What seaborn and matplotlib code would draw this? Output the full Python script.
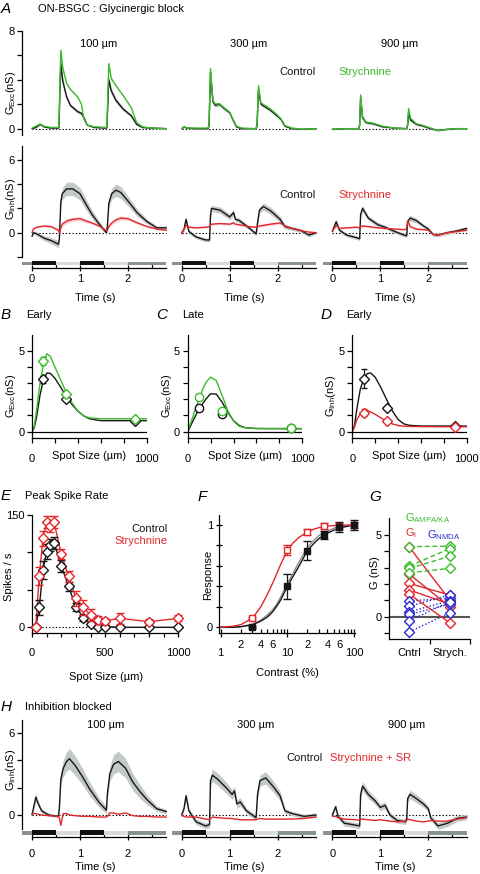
import numpy as np
import matplotlib
matplotlib.use("Agg")
import matplotlib.pyplot as plt
import seaborn as sns

# --------------------------------
# Data
# --------------------------------
SPOT_LABELS = ["100 µm", "300 µm", "900 µm"]

# stimulus protocol under each trace (s)
STIM_START = [-0.2, 0.0, 0.5, 1.0, 1.5, 2.0]
STIM_DUR = [0.2, 0.5, 0.5, 0.5, 0.5, 0.8]
STIM_SHADE = ["mid", "dark", "light", "dark", "light", "mid"]

# A, top: excitatory conductance (nS), control vs strychnine
EXC_100_T = [0, 0.08, 0.17, 0.25, 0.4, 0.55, 0.56, 0.6, 0.64, 0.72, 0.8, 0.95, 1.03, 1.08,
             1.15, 1.3, 1.55, 1.56, 1.6, 1.65, 1.75, 1.9, 2.07, 2.18, 2.3, 2.5, 2.8]
EXC_100_CTRL = [0.0, 0.1, 0.35, 0.15, 0.05, 0.05, 0.1, 5.3, 3.9, 2.6, 1.9, 1.4, 1.25, 0.9,
                0.3, 0.1, 0.05, 0.1, 4.0, 3.1, 2.3, 1.6, 1.05, 0.35, 0.1, 0.05, 0.0]
EXC_100_STRY = [0.05, 0.2, 0.38, 0.2, 0.1, 0.1, 0.2, 6.4, 5.0, 3.7, 3.2, 2.6, 2.0, 0.8,
                0.3, 0.15, 0.1, 0.2, 5.3, 4.1, 3.5, 2.7, 1.7, 0.5, 0.15, 0.05, 0.0]
EXC_100_SEM = [0.05, 0.05, 0.08, 0.05, 0.05, 0.05, 0.1, 0.35, 0.3, 0.2, 0.15, 0.15, 0.12, 0.1,
               0.08, 0.05, 0.05, 0.1, 0.3, 0.25, 0.2, 0.15, 0.12, 0.08, 0.05, 0.05, 0.05]

EXC_300_T = [0, 0.05, 0.1, 0.3, 0.55, 0.57, 0.6, 0.65, 0.7, 0.78, 0.9, 1.0, 1.07, 1.14,
             1.25, 1.55, 1.57, 1.6, 1.65, 1.75, 1.85, 1.97, 2.07, 2.15, 2.3, 2.5, 2.8]
EXC_300_CTRL = [0.0, 0.15, 0.05, 0.0, 0.0, 0.3, 4.6, 2.2, 1.9, 2.0, 1.6, 1.3, 0.7, 0.15,
                0.0, 0.0, 0.3, 3.2, 2.0, 1.75, 1.5, 1.1, 0.75, 0.2, 0.0, -0.05, 0.0]
EXC_300_STRY = [0.0, 0.15, 0.05, 0.05, 0.05, 0.5, 4.9, 2.3, 2.0, 2.05, 1.65, 1.35, 0.75, 0.2,
                0.05, 0.0, 0.4, 3.5, 2.1, 1.85, 1.6, 1.2, 0.8, 0.25, 0.05, -0.05, 0.0]
EXC_300_SEM = [0.05, 0.05, 0.05, 0.05, 0.05, 0.1, 0.3, 0.15, 0.15, 0.15, 0.12, 0.1, 0.08, 0.05,
               0.05, 0.05, 0.1, 0.25, 0.15, 0.12, 0.12, 0.1, 0.08, 0.05, 0.05, 0.05, 0.05]

EXC_900_T = [0, 0.3, 0.55, 0.57, 0.59, 0.63, 0.7, 0.85, 1.05, 1.3, 1.55, 1.57, 1.59, 1.63,
             1.75, 1.9, 2.05, 2.2, 2.4, 2.6, 2.8]
EXC_900_CTRL = [-0.05, 0.0, 0.0, 0.3, 2.5, 0.9, 0.5, 0.4, 0.15, 0.05, 0.0, 0.3, 1.3, 0.7,
                0.35, 0.2, 0.0, -0.15, -0.05, 0.0, 0.0]
EXC_900_STRY = [-0.05, 0.0, 0.0, 0.3, 2.75, 1.0, 0.55, 0.45, 0.2, 0.05, 0.0, 0.4, 1.65, 0.85,
                0.4, 0.25, 0.05, -0.15, -0.05, 0.0, 0.0]
EXC_900_SEM = [0.05, 0.05, 0.05, 0.1, 0.25, 0.12, 0.08, 0.08, 0.06, 0.05, 0.05, 0.1, 0.2, 0.1,
               0.08, 0.06, 0.05, 0.05, 0.05, 0.05, 0.05]

# A, bottom: inhibitory conductance (nS), control vs strychnine
INH_100_T = [0, 0.03, 0.1, 0.25, 0.4, 0.55, 0.57, 0.6, 0.63, 0.72, 0.85, 1.0, 1.1, 1.25,
             1.4, 1.55, 1.57, 1.6, 1.66, 1.75, 1.85, 2.0, 2.2, 2.4, 2.6, 2.8]
INH_100_CTRL = [-0.3, 0.0, -0.1, -0.45, -0.65, -0.95, -0.5, 2.5, 3.2, 3.6, 3.6, 3.2, 2.5, 1.5,
                0.7, 0.0, 0.5, 2.4, 3.2, 3.5, 3.3, 2.6, 1.6, 0.9, 0.4, 0.4]
INH_100_STRY = [0.0, 0.3, 0.45, 0.55, 0.5, 0.2, -0.05, 0.4, 0.7, 0.95, 1.1, 1.15, 1.0, 0.8,
                0.55, 0.15, 0.2, 0.5, 0.8, 1.05, 1.2, 1.15, 0.8, 0.5, 0.3, 0.2]
INH_100_SEM = [0.1, 0.1, 0.15, 0.2, 0.25, 0.3, 0.2, 0.3, 0.45, 0.55, 0.55, 0.5, 0.45, 0.35,
               0.25, 0.15, 0.15, 0.3, 0.45, 0.5, 0.5, 0.4, 0.3, 0.2, 0.15, 0.15]

INH_300_T = [0, 0.05, 0.09, 0.15, 0.3, 0.5, 0.58, 0.6, 0.62, 0.8, 1.0, 1.08, 1.12, 1.2,
             1.4, 1.55, 1.58, 1.62, 1.7, 1.85, 2.05, 2.15, 2.3, 2.5, 2.65, 2.8]
INH_300_CTRL = [0.0, 0.3, 1.1, 0.1, -0.35, -0.6, -0.6, 1.4, 2.0, 1.85, 1.3, 1.65, 1.1, 1.0,
                0.4, -0.1, 0.8, 1.85, 2.15, 1.8, 1.1, 0.5, 0.35, 0.15, -0.2, 0.0]
INH_300_STRY = [-0.1, 0.3, 0.6, 0.45, 0.4, 0.45, 0.5, 0.6, 0.7, 0.75, 0.7, 0.8, 0.7, 0.65,
                0.5, 0.45, 0.5, 0.55, 0.6, 0.7, 0.8, 0.55, 0.35, 0.15, 0.05, 0.0]
INH_300_SEM = [0.1, 0.15, 0.2, 0.15, 0.15, 0.15, 0.15, 0.2, 0.25, 0.25, 0.25, 0.25, 0.2, 0.2,
               0.15, 0.15, 0.2, 0.25, 0.3, 0.3, 0.25, 0.2, 0.15, 0.15, 0.15, 0.1]

INH_900_T = [0, 0.08, 0.15, 0.3, 0.5, 0.57, 0.59, 0.63, 0.75, 0.95, 1.1, 1.3, 1.5, 1.55,
             1.57, 1.62, 1.75, 1.9, 2.0, 2.1, 2.2, 2.4, 2.6, 2.8]
INH_900_CTRL = [0.1, 0.9, 0.2, -0.2, -0.4, -0.5, 1.5, 2.0, 1.2, 0.65, 0.45, 0.1, -0.2, -0.25,
                0.9, 1.2, 1.0, 0.55, 0.3, -0.15, -0.2, 0.0, 0.15, 0.35]
INH_900_STRY = [0.1, 0.6, 0.35, 0.4, 0.45, 0.4, 0.5, 0.55, 0.5, 0.4, 0.35, 0.3, 0.25, 0.35,
                1.0, 0.5, 0.3, 0.25, 0.2, -0.15, -0.2, 0.0, 0.1, 0.2]
INH_900_SEM = [0.1, 0.2, 0.15, 0.15, 0.15, 0.15, 0.2, 0.25, 0.2, 0.2, 0.15, 0.15, 0.15, 0.15,
               0.2, 0.25, 0.2, 0.15, 0.15, 0.15, 0.15, 0.15, 0.15, 0.15]

# B-D: conductance vs spot size (nS)
SPOT_SIZES = [100, 300, 900]
B_CTRL = [3.23, 2.0, 0.65]
B_CTRL_ERR = [0.2, 0.1, 0.05]
B_STRY = [4.36, 2.3, 0.78]
B_STRY_ERR = [0.25, 0.15, 0.05]
C_CTRL = [1.48, 1.07, 0.2]
C_CTRL_ERR = [0.1, 0.08, 0.03]
C_STRY = [2.16, 1.3, 0.2]
C_STRY_ERR = [0.15, 0.08, 0.03]
D_CTRL = [3.27, 1.44, 0.35]
D_CTRL_ERR = [0.6, 0.1, 0.15]
D_STRY = [1.17, 0.68, 0.27]
D_STRY_ERR = [0.2, 0.05, 0.05]

# fitted curves
FIT_X = [0, 20, 40, 70, 100, 130, 160, 200, 250, 300, 350, 400, 450, 500, 600, 1000]
B_FIT_CTRL = [0, 0.25, 0.9, 2.26, 3.2, 3.62, 3.6, 3.3, 2.75, 2.18, 1.67, 1.27, 0.98, 0.8, 0.68, 0.68]
B_FIT_STRY = [0, 0.35, 1.34, 3.0, 4.2, 4.82, 4.65, 4.0, 3.2, 2.4, 1.77, 1.28, 0.98, 0.85, 0.8, 0.8]
C_FIT_CTRL = [0, 0.28, 0.58, 1.0, 1.4, 1.72, 2.02, 2.34, 2.32, 1.82, 1.2, 0.68, 0.38, 0.25, 0.19, 0.18]
C_FIT_STRY = [0, 0.4, 0.82, 1.45, 2.0, 2.6, 3.05, 3.37, 3.15, 2.25, 1.3, 0.65, 0.33, 0.24, 0.2, 0.2]
D_FIT_CTRL = [0, 0.4, 1.42, 2.63, 3.27, 3.58, 3.63, 3.36, 2.72, 1.98, 1.28, 0.75, 0.48, 0.39, 0.35, 0.35]
D_FIT_STRY = [0, 0.3, 0.74, 1.09, 1.24, 1.3, 1.22, 1.07, 0.85, 0.63, 0.48, 0.38, 0.34, 0.32, 0.31, 0.3]

# E: peak spike rate (spikes / s)
E_SPOTS = [25, 50, 75, 100, 125, 150, 200, 250, 300, 350, 400, 450, 500, 600, 800, 1000]
E_CTRL = [0, 27, 77, 101, 110, 113, 82, 55, 27, 13, 5, 1, 1, 0, 0, 0]
E_CTRL_ERR = [0, 10, 12, 10, 8, 8, 8, 6, 5, 4, 3, 2, 2, 1, 1, 1]
E_STRY = [0, 68, 119, 140, 135, 141, 98, 68, 39, 27, 16, 10, 8.5, 12, 7.5, 12]
E_STRY_ERR = [0, 12, 10, 8, 8, 8, 7, 7, 10, 10, 8, 5, 4, 7, 3, 4]

# F: contrast response
F_CONTRAST = [3, 10, 20, 35, 60, 100]
F_CTRL = [0.0, 0.40, 0.75, 0.90, 0.98, 1.0]
F_CTRL_ERR = [0.01, 0.12, 0.09, 0.04, 0.05, 0.05]
F_STRY = [0.09, 0.755, 0.93, 0.99, 0.99, 1.0]
F_STRY_ERR = [0.01, 0.05, 0.03, 0.03, 0.03, 0.03]
F_FIT_C = [1, 1.5, 2, 3, 4, 5, 6, 7, 8, 10, 12, 15, 20, 25, 30, 40, 50, 70, 100]
F_FIT_STRY = [0.0, 0.01, 0.025, 0.09, 0.2, 0.32, 0.43, 0.53, 0.62, 0.75, 0.82, 0.88, 0.93,
              0.96, 0.975, 0.99, 0.995, 1.0, 1.0]
F_FIT_CTRL = [0.0, 0.0, 0.005, 0.025, 0.06, 0.1, 0.15, 0.21, 0.27, 0.4, 0.49, 0.6, 0.75,
              0.82, 0.87, 0.92, 0.95, 0.98, 1.0]
F_FIT_CTRL2 = [0.0, 0.0, 0.006, 0.03, 0.07, 0.12, 0.17, 0.23, 0.3, 0.43, 0.52, 0.64, 0.78,
               0.85, 0.9, 0.94, 0.97, 0.99, 1.0]

# G: paired conductances (nS), control -> strychnine
G_GROUPS = ["Cntrl", "Strych."]
G_AMPA_CTRL = [4.29, 3.1, 2.96, 2.69]
G_AMPA_STRY = [4.33, 4.18, 3.71, 2.96]
G_I_CTRL = [4.25, 2.6, 2.04, 1.63, 1.37]
G_I_STRY = [1.02, 0.61, 1.33, 0.78, -0.37]
G_NMDA_CTRL = [0.98, 0.65, 0.31, 0.14, -0.24, -0.92]
G_NMDA_STRY = [1.12, 1.33, 0.98, 0.78, 0.92, 0.24]

# H: inhibitory conductance (nS), control vs strychnine + SR
BLK_100_T = [0, 0.08, 0.12, 0.2, 0.35, 0.55, 0.57, 0.6, 0.65, 0.72, 0.78, 0.9, 1.05, 1.2,
             1.4, 1.55, 1.57, 1.62, 1.7, 1.8, 1.95, 2.1, 2.25, 2.4, 2.6, 2.8]
BLK_100_CTRL = [0.0, 1.3, 0.9, 0.3, 0.0, -0.1, 0.5, 2.6, 3.4, 3.9, 4.1, 3.6, 2.8, 1.9,
                0.9, 0.35, 1.5, 3.0, 3.7, 3.9, 3.4, 2.4, 1.7, 1.1, 0.45, 0.25]
BLK_100_DRUG = [0.1, 0.1, 0.05, 0.0, -0.05, -0.1, -0.2, -0.75, 0.1, 0.1, 0.0, -0.05, -0.1, -0.1,
                -0.15, -0.15, -0.1, 0.15, 0.15, 0.05, 0.15, -0.05, -0.1, -0.1, -0.15, -0.15]
BLK_100_SEM = [0.1, 0.3, 0.2, 0.15, 0.1, 0.1, 0.2, 0.4, 0.6, 0.7, 0.75, 0.7, 0.6, 0.5,
               0.35, 0.25, 0.3, 0.55, 0.7, 0.75, 0.7, 0.6, 0.5, 0.35, 0.2, 0.15]

BLK_300_T = [0, 0.05, 0.09, 0.15, 0.3, 0.5, 0.58, 0.6, 0.64, 0.75, 0.95, 1.05, 1.1, 1.15,
             1.22, 1.35, 1.55, 1.58, 1.63, 1.75, 1.9, 2.05, 2.15, 2.3, 2.55, 2.8]
BLK_300_CTRL = [0.0, 0.5, 1.4, 0.3, -0.5, -0.8, -0.7, 2.5, 2.9, 2.6, 1.9, 1.5, 1.75, 0.8,
                0.95, 0.3, -0.2, 1.5, 2.5, 2.7, 2.1, 1.4, 0.3, 0.1, -0.1, 0.0]
BLK_300_DRUG = [-0.05, -0.1, -0.15, -0.15, -0.15, -0.3, -0.35, -0.25, -0.15, -0.2, -0.25, -0.25,
                -0.3, -0.3, -0.35, -0.35, -0.35, -0.3, -0.25, -0.3, -0.3, -0.3, -0.3, -0.3,
                -0.25, -0.15]
BLK_300_SEM = [0.1, 0.15, 0.3, 0.2, 0.2, 0.2, 0.2, 0.35, 0.45, 0.45, 0.4, 0.35, 0.35, 0.3,
               0.3, 0.2, 0.2, 0.3, 0.4, 0.45, 0.4, 0.35, 0.2, 0.15, 0.15, 0.15]

BLK_900_T = [0, 0.07, 0.12, 0.25, 0.5, 0.57, 0.59, 0.63, 0.75, 0.9, 1.0, 1.1, 1.2, 1.35,
             1.52, 1.55, 1.57, 1.62, 1.75, 1.9, 2.0, 2.05, 2.2, 2.4, 2.6, 2.8]
BLK_900_CTRL = [0.0, 0.6, -0.1, -0.6, -0.75, -0.8, 1.5, 2.1, 1.5, 1.0, 0.55, 0.7, 0.0, -0.4,
                -0.5, -0.3, 1.2, 1.5, 1.2, 0.8, 0.45, -0.2, -0.8, -0.6, -0.25, -0.15]
BLK_900_DRUG = [-0.1, -0.1, -0.2, -0.3, -0.35, -0.4, -0.3, -0.3, -0.35, -0.4, -0.35, -0.4,
                -0.45, -0.5, -0.45, -0.4, -0.3, -0.35, -0.45, -0.5, -0.45, -0.4, -0.45, -0.45,
                -0.3, -0.2]
BLK_900_SEM = [0.1, 0.2, 0.15, 0.2, 0.2, 0.2, 0.3, 0.35, 0.3, 0.25, 0.25, 0.25, 0.2, 0.2,
               0.2, 0.2, 0.25, 0.3, 0.3, 0.25, 0.2, 0.2, 0.25, 0.25, 0.2, 0.2]

# --------------------------------
# Style
# --------------------------------
sns.set_theme(style="ticks")
plt.rcParams["font.family"] = ["Liberation Sans", "DejaVu Sans"]
plt.rcParams["mathtext.fontset"] = "custom"
plt.rcParams["mathtext.rm"] = "Liberation Sans"
plt.rcParams["mathtext.it"] = "Liberation Sans:italic"
plt.rcParams["mathtext.bf"] = "Liberation Sans:bold"
plt.rcParams["font.size"] = 8
plt.rcParams["axes.facecolor"] = "none"
plt.rcParams["axes.edgecolor"] = "black"
plt.rcParams["axes.linewidth"] = 0.9
plt.rcParams["text.color"] = "black"
plt.rcParams["axes.labelcolor"] = "black"
plt.rcParams["xtick.color"] = "black"
plt.rcParams["ytick.color"] = "black"

BLACK = "#161616"
GREEN = "#3cbb2c"
RED = "#e4262a"
BLUE = "#2b2bd0"
BAND = "#c3c8c8"
STIM_COLORS = {"mid": "#8a9393", "dark": "#111111", "light": "#d9dcdc"}

W, H = 480, 874
COL_X0 = [32, 181.7, 332.3]   # pixel position of t = 0 in each column
PX_PER_S = 48
T_LIM = (-0.2, 2.85)

fig = plt.figure(figsize=(W / 100, H / 100), dpi=100)


def add_ax(left, top, right, bottom):
    return fig.add_axes([left / W, 1 - bottom / H, (right - left) / W, (bottom - top) / H])


def put_text(x, y, s, **kw):
    kw.setdefault("ha", "left")
    kw.setdefault("va", "center")
    kw.setdefault("fontsize", 8)
    fig.text(x / W, 1 - y / H, s, **kw)


def panel_letter(x, y, s):
    put_text(x, y, s, ha="center", fontsize=11, style="italic")


def place_ylabel(ax, text, x, y):
    ax.set_ylabel(text, fontsize=8)
    ax.yaxis.set_label_coords(x / W, 1 - y / H, transform=fig.transFigure)
    ax.yaxis.label.set_va("center")


def place_xlabel(ax, text, x, y):
    ax.set_xlabel(text, fontsize=8)
    ax.xaxis.set_label_coords(x / W, 1 - y / H, transform=fig.transFigure)
    ax.xaxis.label.set_va("center")


def left_ticks(ax, major, minor, top):
    ax.set_yticks(major)
    ax.set_yticklabels([f"{v:g}" for v in major])
    ax.set_yticks(minor, minor=True)
    ax.tick_params(axis="y", which="both", direction="out", length=3.5, width=0.9,
                   pad=2, labelsize=8)
    ax.spines["left"].set_bounds(ax.get_ylim()[0], top)


def trace_panel(col, top, bottom, ylim, t, ctrl, drug, sem, drug_color, band_color, band_scale):
    t0 = COL_X0[col]
    ax = add_ax(t0 + T_LIM[0] * PX_PER_S, top, t0 + T_LIM[1] * PX_PER_S, bottom)
    t, ctrl, drug, sem = (np.asarray(a, dtype=float) for a in (t, ctrl, drug, sem))
    ax.plot([0, 2.8], [0, 0], color="black", lw=0.8, ls=(0, (1.2, 1.8)), zorder=1)
    ax.fill_between(t, ctrl - sem, ctrl + sem, color=BAND, lw=0, zorder=2)
    if band_scale > 0:
        ax.fill_between(t, drug - band_scale * sem, drug + band_scale * sem,
                        color=band_color, lw=0, zorder=2)
    sns.lineplot(x=t, y=ctrl, color=BLACK, lw=1.0, errorbar=None, ax=ax, zorder=3)
    sns.lineplot(x=t, y=drug, color=drug_color, lw=1.0, errorbar=None, ax=ax, zorder=4)
    ax.set_xlim(*T_LIM)
    ax.set_ylim(*ylim)
    ax.set_xticks([])
    ax.set_xlabel("")
    ax.set_ylabel("")
    sns.despine(ax=ax, bottom=True, left=(col != 0))
    if col != 0:
        ax.set_yticks([])
    return ax


def stim_axis(col, axis_y, gray_px, black_px, pad, label_y):
    t0 = COL_X0[col]
    ax = add_ax(t0 + T_LIM[0] * PX_PER_S, axis_y - 8, t0 + T_LIM[1] * PX_PER_S, axis_y)
    ax.set_xlim(*T_LIM)
    ax.set_ylim(0, 8)
    for s, d, shade in zip(STIM_START, STIM_DUR, STIM_SHADE):
        lo, hi = black_px if shade == "dark" else gray_px
        ax.broken_barh([(s, d)], (lo, hi - lo), facecolors=STIM_COLORS[shade], lw=0)
    sns.despine(ax=ax, left=True)
    ax.spines["bottom"].set_bounds(0, 2.8)
    ax.set_yticks([])
    ax.set_xticks([0, 1, 2])
    ax.set_xticklabels(["0", "1", "2"])
    ax.set_xticks([0.5, 1.5, 2.5], minor=True)
    ax.tick_params(axis="x", which="major", direction="inout", length=4.5, width=0.9,
                   pad=pad, labelsize=8)
    ax.tick_params(axis="x", which="minor", direction="in", length=3, width=0.9)
    place_xlabel(ax, "Time (s)", t0 + 63, label_y)
    return ax


# --------------------------------
# A: glycinergic block
# --------------------------------
panel_letter(6, 9, "A")
put_text(38, 9, "ON-BSGC : Glycinergic block")

exc = [(EXC_100_T, EXC_100_CTRL, EXC_100_STRY, EXC_100_SEM),
       (EXC_300_T, EXC_300_CTRL, EXC_300_STRY, EXC_300_SEM),
       (EXC_900_T, EXC_900_CTRL, EXC_900_STRY, EXC_900_SEM)]
inh = [(INH_100_T, INH_100_CTRL, INH_100_STRY, INH_100_SEM),
       (INH_300_T, INH_300_CTRL, INH_300_STRY, INH_300_SEM),
       (INH_900_T, INH_900_CTRL, INH_900_STRY, INH_900_SEM)]

for col in range(3):
    ax = trace_panel(col, 27.0, 134.8, (-0.5, 8.3), *exc[col], GREEN, "#c6e9c0", 0.5)
    if col == 0:
        left_ticks(ax, [0, 8], [2, 4, 6], 8)
        place_ylabel(ax, r"G$_{\mathrm{Exc}}$(nS)", 11, 93)
    ax = trace_panel(col, 145.1, 257.0, (-2.0, 7.2), *inh[col], RED, "#f6d6d6", 0.35)
    if col == 0:
        left_ticks(ax, [0, 6], [-2, 2, 4], 7.1)
        place_ylabel(ax, r"G$_{\mathrm{Inh}}$(nS)", 11, 199)
    stim_axis(col, 268.3, (3.0, 6.3), (3.0, 7.0), 1.5, 298)

for col in range(3):
    put_text(COL_X0[col] + 67, 44, SPOT_LABELS[col], ha="center")
put_text(279.3, 72.3, "Control", color=BLACK)
put_text(338.3, 72.3, "Strychnine", color=GREEN)
put_text(279.3, 195, "Control", color=BLACK)
put_text(338.3, 195, "Strychnine", color=RED)

# --------------------------------
# B-D: spot size tuning
# --------------------------------
tuning = [
    ("B", "Early", 32, r"G$_{\mathrm{Exc}}$(nS)", B_FIT_CTRL, B_FIT_STRY,
     B_CTRL, B_CTRL_ERR, B_STRY, B_STRY_ERR, GREEN, "D"),
    ("C", "Late", 187.7, r"G$_{\mathrm{Exc}}$(nS)", C_FIT_CTRL, C_FIT_STRY,
     C_CTRL, C_CTRL_ERR, C_STRY, C_STRY_ERR, GREEN, "o"),
    ("D", "Early", 352.3, r"G$_{\mathrm{Inh}}$(nS)", D_FIT_CTRL, D_FIT_STRY,
     D_CTRL, D_CTRL_ERR, D_STRY, D_STRY_ERR, RED, "D"),
]
for (letter, sub, left, ylab, fit_c, fit_s, pc, pce, ps, pse, dcol, mk) in tuning:
    ax = add_ax(left, 335, left + 114.5, 438.3)
    ax.axhline(0, color="black", lw=0.9, zorder=1)
    sns.lineplot(x=FIT_X, y=fit_c, color=BLACK, lw=1.0, errorbar=None, ax=ax, zorder=2)
    sns.lineplot(x=FIT_X, y=fit_s, color=dcol, lw=1.0, errorbar=None, ax=ax, zorder=2)
    ms = 5.0 if mk == "D" else 6.0
    ax.errorbar(SPOT_SIZES, pc, yerr=pce, fmt=mk, ms=ms, mfc="white", mec=BLACK, mew=1.0,
                ecolor=BLACK, elinewidth=0.9, capsize=2.5, zorder=4, clip_on=False)
    ax.errorbar(SPOT_SIZES, ps, yerr=pse, fmt=mk, ms=ms, mfc="white", mec=dcol, mew=1.0,
                ecolor=dcol, elinewidth=0.9, capsize=2.5, zorder=5, clip_on=False)
    ax.set_xlim(0, 1000)
    ax.set_ylim(-0.41, 5.97)
    sns.despine(ax=ax)
    left_ticks(ax, [0, 5], [1, 2, 3, 4], 5.97)
    ax.set_xticks([0, 1000])
    ax.set_xticklabels(["0", "1000"])
    ax.set_xticks([200, 400, 600, 800], minor=True)
    ax.tick_params(axis="x", which="both", direction="out", length=3.6, width=0.9,
                   pad=7.5, labelsize=8)
    place_xlabel(ax, "Spot Size (µm)", left + 57, 456)
    place_ylabel(ax, ylab, left - 21, 396)
    panel_letter(left - 26, 315, letter)
    put_text(left - 6, 315, sub)

# --------------------------------
# E: peak spike rate
# --------------------------------
panel_letter(6, 496, "E")
put_text(25, 496, "Peak Spike Rate")
ax = add_ax(32, 513.5, 178.3, 632.7)
ax.plot([0, 1000], [0, 0], color="black", lw=0.8, ls=(0, (1.2, 1.8)), zorder=1)
sns.lineplot(x=E_SPOTS, y=E_CTRL, color=BLACK, lw=1.0, errorbar=None, ax=ax, zorder=2)
sns.lineplot(x=E_SPOTS, y=E_STRY, color=RED, lw=1.0, errorbar=None, ax=ax, zorder=3)
ax.errorbar(E_SPOTS, E_CTRL, yerr=E_CTRL_ERR, fmt="D", ms=4.6, mfc="white", mec=BLACK,
            mew=1.0, ecolor=BLACK, elinewidth=0.9, capsize=3, zorder=4, clip_on=False)
ax.errorbar(E_SPOTS, E_STRY, yerr=E_STRY_ERR, fmt="D", ms=4.6, mfc="white", mec=RED,
            mew=1.0, ecolor=RED, elinewidth=0.9, capsize=3, zorder=5, clip_on=False)
ax.set_xlim(0, 1000)
ax.set_ylim(-7.2, 152)
sns.despine(ax=ax)
left_ticks(ax, [0, 150], [50, 100], 150)
ax.set_xticks([0, 500, 1000])
ax.set_xticklabels(["0", "500", "1000"])
ax.set_xticks([100, 200, 300, 400, 600, 700, 800, 900], minor=True)
ax.tick_params(axis="x", which="both", direction="out", length=3, width=0.9, pad=8.2,
               labelsize=8)
place_xlabel(ax, "Spot Size (µm)", 106, 677)
place_ylabel(ax, "Spikes / s", 9, 577)
put_text(167.7, 528.5, "Control", ha="right", color=BLACK)
put_text(167.7, 541, "Strychnine", ha="right", color=RED)

# --------------------------------
# F: contrast response
# --------------------------------
panel_letter(202, 497, "F")
ax = add_ax(219.3, 514.8, 355.3, 632.7)
ax.set_xscale("log")
sns.lineplot(x=F_FIT_C, y=F_FIT_CTRL2, color="#8c8c8c", lw=1.0, errorbar=None, ax=ax, zorder=2)
sns.lineplot(x=F_FIT_C, y=F_FIT_CTRL, color=BLACK, lw=1.0, errorbar=None, ax=ax, zorder=2)
sns.lineplot(x=F_FIT_C, y=F_FIT_STRY, color=RED, lw=1.0, errorbar=None, ax=ax, zorder=2)
ax.errorbar(F_CONTRAST, F_STRY, yerr=F_STRY_ERR, fmt="s", ms=4.6, mfc="white", mec=RED,
            mew=1.0, ecolor=RED, elinewidth=0.9, capsize=3, zorder=4, clip_on=False)
ax.errorbar(F_CONTRAST, F_CTRL, yerr=F_CTRL_ERR, fmt="s", ms=4.6, mfc=BLACK, mec=BLACK,
            mew=1.0, ecolor=BLACK, elinewidth=0.9, capsize=3, zorder=5, clip_on=False)
ax.set_xlim(0.953, 104.6)
ax.set_ylim(-0.053, 1.1)
sns.despine(ax=ax)
ax.set_yticks([0, 1])
ax.set_yticklabels(["0", "1"])
ax.set_yticks([0.2, 0.4, 0.6, 0.8], minor=True)
ax.tick_params(axis="y", which="both", direction="inout", length=5, width=0.9, pad=2,
               labelsize=8)
ax.spines["left"].set_bounds(-0.053, 1.1)
ax.set_xticks([1, 10, 100])
ax.set_xticklabels(["1", "10", "100"])
minor_c = [2, 3, 4, 5, 6, 7, 8, 9, 20, 30, 40, 50, 60, 70, 80, 90]
ax.set_xticks(minor_c, minor=True)
ax.set_xticklabels([str(c)[0] if c in (2, 4, 6, 20, 40, 60) else "" for c in minor_c],
                   minor=True)
ax.tick_params(axis="x", which="major", direction="inout", length=6.2, width=0.9, pad=8,
               labelsize=8)
ax.tick_params(axis="x", which="minor", direction="in", length=3, width=0.9, pad=5.6,
               labelsize=8)
place_xlabel(ax, "Contrast (%)", 287, 673)
place_ylabel(ax, "Response", 208, 575)

# --------------------------------
# G: paired conductances
# --------------------------------
panel_letter(375, 497, "G")
ax = add_ax(389.3, 518.3, 470, 639.3)
ax.axhline(0, color="#555555", lw=1.5, zorder=1)
pairs = [(G_NMDA_CTRL, G_NMDA_STRY, BLUE, (0, (1, 1.5))),
         (G_I_CTRL, G_I_STRY, RED, "-"),
         (G_AMPA_CTRL, G_AMPA_STRY, GREEN, (0, (3.5, 2)))]
for ctrl_vals, stry_vals, color, ls in pairs:
    for c, s in zip(ctrl_vals, stry_vals):
        ax.plot([0, 1], [c, s], color=color, lw=1.0, ls=ls, zorder=2)
for ctrl_vals, stry_vals, color, ls in [pairs[1], pairs[0], pairs[2]]:
    n = len(ctrl_vals)
    sns.scatterplot(x=[0] * n + [1] * n, y=list(ctrl_vals) + list(stry_vals), marker="D",
                    s=26, facecolor="white", edgecolor=color, linewidth=1.0, ax=ax,
                    zorder=4, clip_on=False)
ax.set_xlim(-0.5, 1.5)
ax.set_ylim(-1.38, 6.03)
sns.despine(ax=ax)
left_ticks(ax, [0, 5], [-1, 1, 2, 3, 4], 6.03)
ax.set_xticks([0.5, 1.5])
ax.set_xticklabels(["", ""])
ax.set_xticks([0, 1], minor=True)
ax.set_xticklabels(G_GROUPS, minor=True)
ax.tick_params(axis="x", which="major", direction="out", length=3.6, width=0.9)
ax.tick_params(axis="x", which="minor", length=0, pad=6.5, labelsize=8)
ax.set_xlabel("")
place_ylabel(ax, "G (nS)", 375, 573)
put_text(405, 518.5, r"G$_{\mathrm{AMPA/KA}}$", color=GREEN)
put_text(405, 533, r"G$_{\mathrm{i}}$", color=RED)
put_text(427, 535, r"G$_{\mathrm{NMDA}}$", color=BLUE)

# --------------------------------
# H: inhibition blocked
# --------------------------------
panel_letter(6, 707, "H")
put_text(25, 707, "Inhibition blocked")
blk = [(BLK_100_T, BLK_100_CTRL, BLK_100_DRUG, BLK_100_SEM),
       (BLK_300_T, BLK_300_CTRL, BLK_300_DRUG, BLK_300_SEM),
       (BLK_900_T, BLK_900_CTRL, BLK_900_DRUG, BLK_900_SEM)]
for col in range(3):
    ax = trace_panel(col, 719.6, 828.7, (-1.0, 6.95), *blk[col], RED, "#f6d5d5", 0.0)
    if col == 0:
        left_ticks(ax, [0, 6], [2, 4], 6.9)
        place_ylabel(ax, r"G$_{\mathrm{Inh}}$(nS)", 11, 770)
    stim_axis(col, 836.7, (1.7, 6.0), (1.7, 6.3), 6.8, 867)
    put_text(COL_X0[col] + 74, 725, SPOT_LABELS[col], ha="center")
put_text(286.7, 758.3, "Control", color=BLACK)
put_text(330, 758.3, "Strychnine + SR", color=RED)

plt.savefig("out.png", dpi=100)
